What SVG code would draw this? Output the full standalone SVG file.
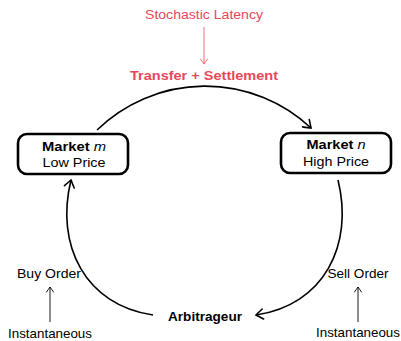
<svg xmlns="http://www.w3.org/2000/svg" width="401" height="341" viewBox="0 0 401 341">
<defs>
<style>
text{font-family:"Liberation Sans",Arial,sans-serif;font-size:13px;fill:#000}
.b{font-weight:bold}
.red{fill:#e8475b}
.box{fill:#fff;stroke:#000;stroke-width:2.6}
.arc{fill:none;stroke:#000;stroke-width:1.6}
.thin{fill:none;stroke:#000;stroke-width:0.9}
.redl{fill:none;stroke:#ee6a78;stroke-width:1}
</style>
<marker id="ah" markerUnits="userSpaceOnUse" viewBox="-10 -6 12 12" markerWidth="12" markerHeight="12" refX="0" refY="0" orient="auto">
<path d="M-7,-5 Q-2,-1.5 0,0 Q-2,1.5 -7,5" fill="none" stroke="#000" stroke-width="1.6" stroke-linecap="round"/>
</marker>
<marker id="ahs" markerUnits="userSpaceOnUse" viewBox="-10 -6 12 12" markerWidth="12" markerHeight="12" refX="0" refY="0" orient="auto">
<path d="M-5,-3.5 Q-1.5,-1 0,0 Q-1.5,1 -5,3.5" fill="none" stroke="#000" stroke-width="0.9" stroke-linecap="round"/>
</marker>
<marker id="ahr" markerUnits="userSpaceOnUse" viewBox="-10 -6 12 12" markerWidth="12" markerHeight="12" refX="0" refY="0" orient="auto">
<path d="M-5,-3.5 Q-1.5,-1 0,0 Q-1.5,1 -5,3.5" fill="none" stroke="#ee6a78" stroke-width="1" stroke-linecap="round"/>
</marker>
</defs>
<g id="connectors">
<path class="arc" d="M97,130 A155,155 0 0 1 311,128" marker-end="url(#ah)"/>
<path class="arc" d="M153,315 C85,305 55,245 71,180" marker-end="url(#ah)"/>
<path class="arc" d="M338,180 C354,245 324,305 256,315" marker-end="url(#ah)"/>
<path class="redl" d="M204,27 L204,64" marker-end="url(#ahr)"/>
<path class="thin" d="M50,322 L50,287" marker-end="url(#ahs)"/>
<path class="thin" d="M358,322 L358,287" marker-end="url(#ahs)"/>
</g>
<g id="latency">
<text class="red" x="204" y="19" text-anchor="middle" textLength="118" lengthAdjust="spacingAndGlyphs">Stochastic Latency</text>
</g>
<g id="transfer">
<text class="red b" x="204" y="80" text-anchor="middle" textLength="148" lengthAdjust="spacingAndGlyphs">Transfer + Settlement</text>
</g>
<g id="market-m">
<rect class="box" x="18" y="134" width="110" height="40" rx="9"/>
<text x="74" y="151" text-anchor="middle" textLength="64" lengthAdjust="spacingAndGlyphs"><tspan class="b">Market</tspan> <tspan font-style="italic">m</tspan></text>
<text x="74" y="167" text-anchor="middle" textLength="63" lengthAdjust="spacingAndGlyphs">Low Price</text>
</g>
<g id="market-n">
<rect class="box" x="281" y="133" width="110" height="40" rx="9"/>
<text x="336" y="149" text-anchor="middle" textLength="59" lengthAdjust="spacingAndGlyphs"><tspan class="b">Market</tspan> <tspan font-style="italic">n</tspan></text>
<text x="336" y="166" text-anchor="middle" textLength="66" lengthAdjust="spacingAndGlyphs">High Price</text>
</g>
<g id="arbitrageur">
<text class="b" x="205" y="321" text-anchor="middle" textLength="74" lengthAdjust="spacingAndGlyphs">Arbitrageur</text>
</g>
<g id="buy">
<text x="49" y="278" text-anchor="middle" textLength="64" lengthAdjust="spacingAndGlyphs">Buy Order</text>
<text x="50" y="338" text-anchor="middle" textLength="84" lengthAdjust="spacingAndGlyphs">Instantaneous</text>
</g>
<g id="sell">
<text x="358" y="278" text-anchor="middle" textLength="61" lengthAdjust="spacingAndGlyphs">Sell Order</text>
<text x="358" y="337" text-anchor="middle" textLength="84" lengthAdjust="spacingAndGlyphs">Instantaneous</text>
</g>
</svg>
